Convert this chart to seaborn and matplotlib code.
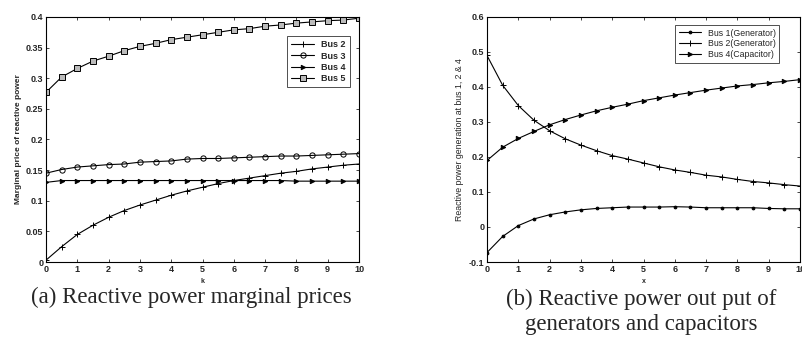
import numpy as np
import pandas as pd
import matplotlib
matplotlib.use("Agg")
import matplotlib.pyplot as plt
import seaborn as sns

# ---------------- data ----------------
k_vals = [0, 0.5, 1, 1.5, 2, 2.5, 3, 3.5, 4, 4.5, 5, 5.5, 6, 6.5, 7, 7.5, 8, 8.5, 9, 9.5, 10]

bus2_price = [0.003, 0.025, 0.045, 0.060, 0.073, 0.084, 0.093, 0.101, 0.109, 0.116, 0.122,
              0.128, 0.133, 0.137, 0.141, 0.145, 0.148, 0.152, 0.155, 0.158, 0.160]
bus3_price = [0.145, 0.151, 0.155, 0.157, 0.159, 0.160, 0.163, 0.164, 0.165, 0.168, 0.169,
              0.169, 0.170, 0.171, 0.172, 0.173, 0.173, 0.174, 0.175, 0.176, 0.177]
bus4_price = [0.130, 0.133, 0.133, 0.133, 0.133, 0.133, 0.133, 0.133, 0.133, 0.133, 0.133,
              0.133, 0.133, 0.133, 0.133, 0.133, 0.132, 0.132, 0.132, 0.132, 0.132]
bus5_price = [0.277, 0.302, 0.316, 0.328, 0.336, 0.345, 0.352, 0.357, 0.363, 0.367, 0.371,
              0.375, 0.379, 0.381, 0.385, 0.387, 0.390, 0.392, 0.394, 0.395, 0.398]

x_vals = k_vals
bus1_gen = [-0.073, -0.027, 0.004, 0.023, 0.035, 0.043, 0.049, 0.053, 0.055, 0.057, 0.057,
            0.057, 0.058, 0.057, 0.055, 0.055, 0.055, 0.055, 0.053, 0.052, 0.052]
bus2_gen = [0.490, 0.405, 0.347, 0.305, 0.275, 0.252, 0.234, 0.218, 0.204, 0.194, 0.183,
            0.172, 0.163, 0.156, 0.148, 0.143, 0.136, 0.130, 0.126, 0.121, 0.117]
bus4_cap = [0.190, 0.228, 0.253, 0.273, 0.292, 0.307, 0.320, 0.332, 0.342, 0.351, 0.361,
            0.369, 0.377, 0.384, 0.391, 0.397, 0.403, 0.407, 0.412, 0.416, 0.421]

labels_a = ["Bus 2", "Bus 3", "Bus 4", "Bus 5"]
labels_b = ["Bus 1(Generator)", "Bus 2(Generator)", "Bus 4(Capacitor)"]
caption_a = "(a) Reactive power marginal prices"
caption_b = "(b) Reactive power out put of\ngenerators and capacitors"

# ---------------- style ----------------
sns.set_style("ticks", {"xtick.direction": "in", "ytick.direction": "in"})
plt.rcParams["font.family"] = ["Liberation Sans", "DejaVu Sans"]

fig = plt.figure(figsize=(8.02, 3.49), dpi=100)
ax1 = fig.add_axes([46 / 802, 87 / 349, 313 / 802, 245 / 349])
ax2 = fig.add_axes([487 / 802, 87 / 349, 313 / 802, 245 / 349])

def style_axis(ax):
    for s in ax.spines.values():
        s.set_linewidth(0.8)
        s.set_color("black")
    ax.tick_params(direction="in", length=2.5, width=0.6, labelsize=6.5,
                   top=True, right=True, pad=2)
    for t in ax.get_xticklabels() + ax.get_yticklabels():
        t.set_fontweight("bold")

# ---------------- (a) ----------------
series_a = [bus2_price, bus3_price, bus4_price, bus5_price]
markers_a = ["+", "o", ">", "s"]
faces_a = ["black", "none", "black", "#bbbbbb"]
sizes_a = [4, 3.8, 3.2, 3.8]
for y, lab, m, fc, ms in zip(series_a, labels_a, markers_a, faces_a, sizes_a):
    sns.lineplot(x=k_vals, y=y, ax=ax1, color="black", linewidth=0.8, marker=m,
                 markersize=ms, markerfacecolor=fc, markeredgecolor="black",
                 markeredgewidth=0.7, label=lab)
ax1.set_xlim(0, 10)
ax1.set_ylim(0, 0.4)
ax1.set_xticks(range(0, 11))
ax1.set_yticks([0, 0.05, 0.1, 0.15, 0.2, 0.25, 0.3, 0.35, 0.4])
ax1.set_yticklabels(["0", "0.05", "0.1", "0.15", "0.2", "0.25", "0.3", "0.35", "0.4"])
ax1.set_xlabel("k", fontsize=5, fontweight="bold", labelpad=3)
ax1.set_ylabel("Marginal price of reactive power", fontsize=6, fontweight="bold", labelpad=3)
style_axis(ax1)
leg1 = ax1.legend(loc="upper right", bbox_to_anchor=(0.985, 0.94),
                  frameon=True, fancybox=False, edgecolor="black", borderpad=0.45,
                  handlelength=2.5, labelspacing=0.25, prop={"weight": "bold", "size": 6.5})
leg1.get_frame().set_linewidth(0.6)

# ---------------- (b) ----------------
series_b = [bus1_gen, bus2_gen, bus4_cap]
markers_b = [".", "+", ">"]
sizes_b = [4, 4, 3.2]
for y, lab, m, ms in zip(series_b, labels_b, markers_b, sizes_b):
    sns.lineplot(x=x_vals, y=y, ax=ax2, color="black", linewidth=0.8, marker=m,
                 markersize=ms, markerfacecolor="black", markeredgecolor="black",
                 markeredgewidth=0.7, label=lab)
ax2.set_xlim(0, 10)
ax2.set_ylim(-0.1, 0.6)
ax2.set_xticks(range(0, 11))
ax2.set_yticks([-0.1, 0, 0.1, 0.2, 0.3, 0.4, 0.5, 0.6])
ax2.set_yticklabels(["-0.1", "0", "0.1", "0.2", "0.3", "0.4", "0.5", "0.6"])
ax2.set_xlabel("x", fontsize=5, fontweight="bold", labelpad=3)
ax2.set_ylabel("Reactive power generation at bus 1, 2 & 4", fontsize=6.3, labelpad=3)
style_axis(ax2)
leg2 = ax2.legend(loc="upper right", bbox_to_anchor=(0.948, 0.985),
                  frameon=True, fancybox=False, edgecolor="black", borderpad=0.4,
                  handlelength=2.5, labelspacing=0.2, prop={"size": 6.3})
leg2.get_frame().set_linewidth(0.6)

# ---------------- captions ----------------
fig.text(191 / 802, 1 - 297 / 349, caption_a, ha="center", va="center",
         fontsize=16.5, family="Liberation Serif")
fig.text(641 / 802, 1 - 312 / 349, caption_b, ha="center", va="center",
         fontsize=16.5, family="Liberation Serif", linespacing=1.3)

fig.savefig("out.png", dpi=100)
